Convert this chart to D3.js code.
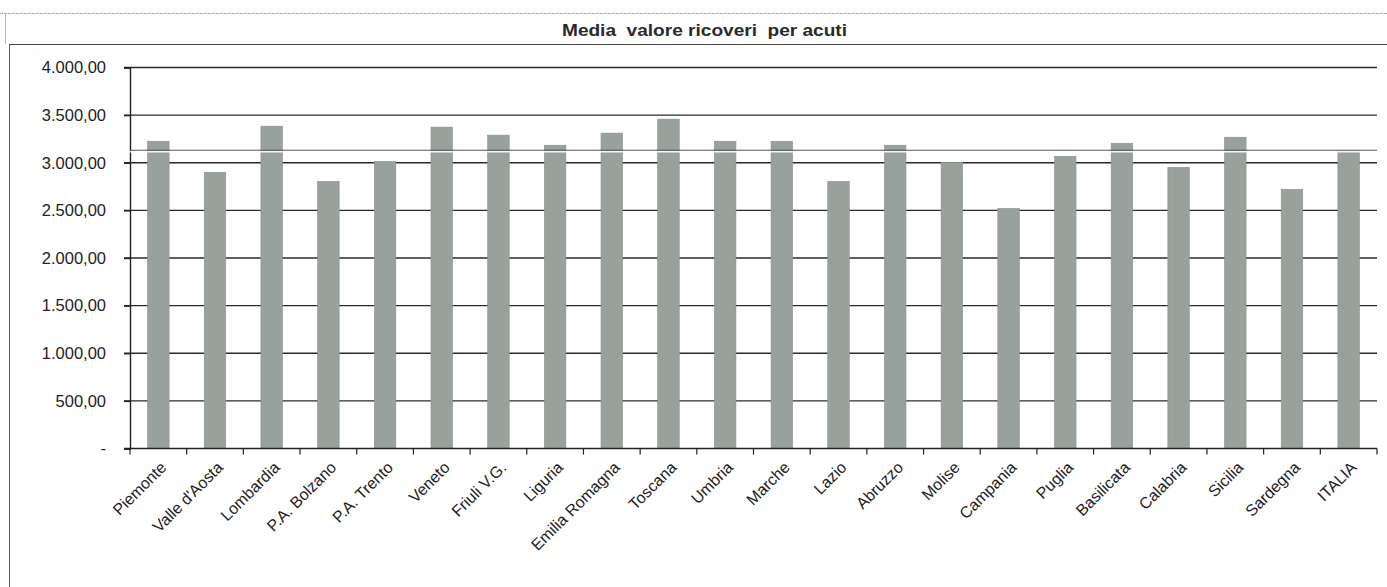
<!DOCTYPE html>
<html><head><meta charset="utf-8">
<script src="https://cdn.jsdelivr.net/npm/d3@7"></script>
<style>
html,body{margin:0;padding:0;background:#fff;}
svg{display:block;}
</style></head>
<body>
<svg id="c" width="1387" height="587"></svg>
<script>
const categories = ["Piemonte","Valle d'Aosta","Lombardia","P.A. Bolzano","P.A. Trento","Veneto","Friuli V.G.","Liguria","Emilia Romagna","Toscana","Umbria","Marche","Lazio","Abruzzo","Molise","Campania","Puglia","Basilicata","Calabria","Sicilia","Sardegna","ITALIA"];
const values = [3226,2900,3384,2805,3015,3374,3290,3184,3311,3458,3226,3226,2805,3184,3005,2521,3068,3205,2952,3268,2721,3121];
const yTicks = [0,500,1000,1500,2000,2500,3000,3500,4000];
const title = "Media  valore ricoveri  per acuti";
const referenceValue = values[values.length-1];

const svg = d3.select("#c");
const pLeft = 130, pRight = 1377, pTop = 67.5, pBottom = 448.5;
const x = d3.scaleBand().domain(categories).range([pLeft,pRight]).paddingInner(0.62).paddingOuter(0.31);
const y = d3.scaleLinear().domain([0,4000]).range([pBottom,pTop]);
const it = d3.formatLocale({decimal:",",thousands:".",grouping:[3],currency:["€",""]});
const fmt = it.format(",.2f");

// frame
svg.append("line").attr("x1",0).attr("x2",1387).attr("y1",13.5).attr("y2",13.5)
  .attr("stroke","#aaa").attr("stroke-width",1).attr("stroke-dasharray","3,1");
svg.append("line").attr("x1",9).attr("x2",1387).attr("y1",44.5).attr("y2",44.5)
  .attr("stroke","#444").attr("stroke-width",1.2);
svg.append("line").attr("x1",9.5).attr("x2",9.5).attr("y1",44.5).attr("y2",587)
  .attr("stroke","#555").attr("stroke-width",1);
svg.append("line").attr("x1",5.5).attr("x2",5.5).attr("y1",14).attr("y2",44)
  .attr("stroke","#bbb").attr("stroke-width",1);

svg.append("text").attr("x",562).attr("y",36).attr("text-anchor","start")
  .attr("font-family","Liberation Sans, Arial, sans-serif").attr("font-size",16)
  .attr("font-weight","bold").attr("fill","#2a2a2a")
  .attr("textLength",285).attr("lengthAdjust","spacingAndGlyphs")
  .style("white-space","pre")
  .text(title);

// gridlines
svg.append("g").selectAll("line").data(yTicks.filter(d=>d>0)).join("line")
  .attr("x1",pLeft-6).attr("x2",pRight).attr("y1",d=>y(d)).attr("y2",d=>y(d))
  .attr("stroke","#2a2a2a").attr("stroke-width",1.4);

// y axis
const yAxis = d3.axisLeft(y).tickValues(yTicks).tickSize(6).tickPadding(18)
  .tickFormat(d=>d===0?"-":fmt(d));
const gy = svg.append("g").attr("transform",`translate(${pLeft},0)`).call(yAxis);
gy.select(".domain").attr("stroke","#222").attr("stroke-width",1.4);
gy.selectAll(".tick line").attr("stroke","#222").attr("stroke-width",1.4);
gy.selectAll(".tick text").attr("font-family","Liberation Sans, Arial, sans-serif")
  .attr("font-size",16.5).attr("fill","#222");

// bars
svg.append("g").selectAll("rect").data(values).join("rect")
  .attr("x",(d,i)=>x(categories[i])).attr("width",x.bandwidth())
  .attr("y",d=>y(d)).attr("height",d=>pBottom-y(d))
  .attr("fill","#99a19d").attr("stroke","#8a918e").attr("stroke-width",0.6);

// reference line (dark over background, light over bars)
svg.append("line").attr("x1",pLeft).attr("x2",pRight)
  .attr("y1",y(referenceValue)-1).attr("y2",y(referenceValue)-1)
  .attr("stroke","#555").attr("stroke-width",1);
svg.append("line").attr("x1",pLeft).attr("x2",pRight)
  .attr("y1",y(referenceValue)+0.5).attr("y2",y(referenceValue)+0.5)
  .attr("stroke","#fff").attr("stroke-width",1.4).attr("opacity",0.9);

// x axis
const step = x.step();
const bounds = d3.range(categories.length+1).map(i=>pLeft+i*step);
svg.append("line").attr("x1",pLeft-6).attr("x2",pRight).attr("y1",pBottom).attr("y2",pBottom)
  .attr("stroke","#222").attr("stroke-width",1.4);
svg.append("g").selectAll("line").data(bounds).join("line")
  .attr("x1",d=>d).attr("x2",d=>d).attr("y1",pBottom).attr("y2",pBottom+6)
  .attr("stroke","#222").attr("stroke-width",1.2);

const xAxis = d3.axisBottom(x).tickSize(0).tickPadding(0);
const gx = svg.append("g").attr("transform",`translate(0,${pBottom})`).call(xAxis);
gx.select(".domain").remove();
gx.selectAll(".tick text")
  .attr("font-family","Liberation Sans, Arial, sans-serif").attr("font-size",16)
  .attr("fill","#222").attr("text-anchor","end").attr("dy",null).attr("y",null)
  .attr("transform","translate(9,20) rotate(-45)");
</script>
</body></html>
